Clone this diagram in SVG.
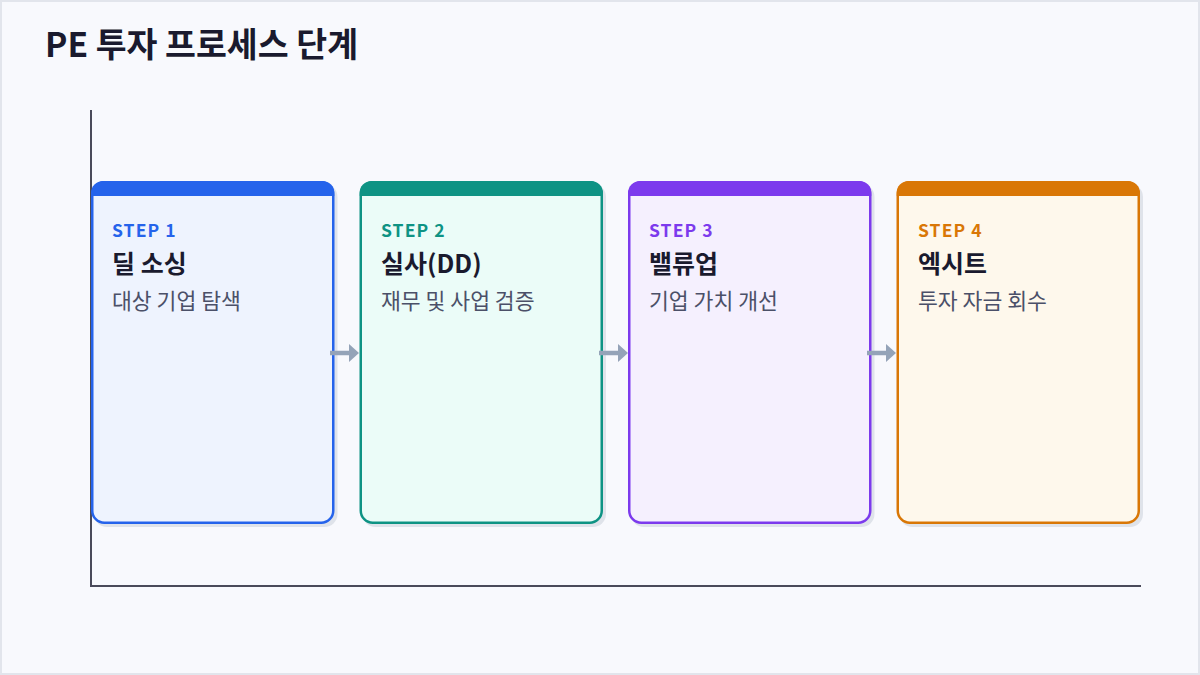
<svg xmlns="http://www.w3.org/2000/svg" width="1200" height="675" viewBox="0 0 1200 675">
<defs>
<style>
.t{font-family:"Noto Sans CJK KR","Noto Sans",sans-serif;}
.title{font-size:33.6px;font-weight:700;fill:#1a1a2e;}
.step{font-size:17.5px;font-weight:700;letter-spacing:1.1px;}
.name{font-size:25px;font-weight:700;fill:#1a1a2e;}
.desc{font-size:21.6px;font-weight:400;fill:#4b5068;}
.axis{stroke:#4a4a5a;stroke-width:2;fill:none;}
.conn{stroke:#94a3b8;stroke-width:4.5;fill:none;}
.shadow{fill:#dfe3ea;}
</style>
<marker id="ah" viewBox="0 0 10 18" refX="1" refY="9" markerWidth="10" markerHeight="18" orient="auto" markerUnits="userSpaceOnUse">
<path d="M0,0 L10,9 L0,18 Z" fill="#94a3b8"/>
</marker>
<clipPath id="c1"><rect x="91" y="181" width="243.5" height="15"/></clipPath>
<clipPath id="c2"><rect x="359.5" y="181" width="243.5" height="15"/></clipPath>
<clipPath id="c3"><rect x="628" y="181" width="243.5" height="15"/></clipPath>
<clipPath id="c4"><rect x="896.5" y="181" width="243.5" height="15"/></clipPath>
</defs>
<rect x="1" y="1" width="1198" height="673" fill="#f8f9fd" stroke="#e2e5ec" stroke-width="2"/>
<text class="t title" x="45" y="57">PE 투자 프로세스 단계</text>
<g id="axes">
<line class="axis" x1="91" y1="110" x2="91" y2="586"/>
<line class="axis" x1="90" y1="586" x2="1141" y2="586"/>
</g>
<g id="step1">
<rect class="shadow" x="94" y="184" width="243.5" height="343" rx="13"/>
<rect x="92.25" y="182.25" width="241" height="340.5" rx="12" fill="#eef3fe" stroke="#2563eb" stroke-width="2.5"/>
<rect x="91" y="181" width="243.5" height="40" rx="12" fill="#2563eb" clip-path="url(#c1)"/>
<text class="t step" x="112" y="237" fill="#2563eb">STEP 1</text>
<text class="t name" x="112" y="273">딜 소싱</text>
<text class="t desc" x="112" y="309">대상 기업 탐색</text>
</g>
<g id="step2">
<rect class="shadow" x="362.5" y="184" width="243.5" height="343" rx="13"/>
<rect x="360.75" y="182.25" width="241" height="340.5" rx="12" fill="#ebfcf8" stroke="#0e9384" stroke-width="2.5"/>
<rect x="359.5" y="181" width="243.5" height="40" rx="12" fill="#0e9384" clip-path="url(#c2)"/>
<text class="t step" x="381" y="237" fill="#0e9384">STEP 2</text>
<text class="t name" x="381" y="273">실사(DD)</text>
<text class="t desc" x="381" y="309">재무 및 사업 검증</text>
</g>
<g id="step3">
<rect class="shadow" x="631" y="184" width="243.5" height="343" rx="13"/>
<rect x="629.25" y="182.25" width="241" height="340.5" rx="12" fill="#f5f0fe" stroke="#7c3aed" stroke-width="2.5"/>
<rect x="628" y="181" width="243.5" height="40" rx="12" fill="#7c3aed" clip-path="url(#c3)"/>
<text class="t step" x="649" y="237" fill="#7c3aed">STEP 3</text>
<text class="t name" x="649" y="273">밸류업</text>
<text class="t desc" x="649" y="309">기업 가치 개선</text>
</g>
<g id="step4">
<rect class="shadow" x="899.5" y="184" width="243.5" height="343" rx="13"/>
<rect x="897.75" y="182.25" width="241" height="340.5" rx="12" fill="#fef8ec" stroke="#d97706" stroke-width="2.5"/>
<rect x="896.5" y="181" width="243.5" height="40" rx="12" fill="#d97706" clip-path="url(#c4)"/>
<text class="t step" x="918" y="237" fill="#d97706">STEP 4</text>
<text class="t name" x="918" y="273">엑시트</text>
<text class="t desc" x="918" y="309">투자 자금 회수</text>
</g>
<g id="connectors">
<line class="conn" x1="330" y1="353" x2="350" y2="353" marker-end="url(#ah)"/>
<line class="conn" x1="599" y1="353" x2="619" y2="353" marker-end="url(#ah)"/>
<line class="conn" x1="867" y1="353" x2="887" y2="353" marker-end="url(#ah)"/>
</g>
</svg>
